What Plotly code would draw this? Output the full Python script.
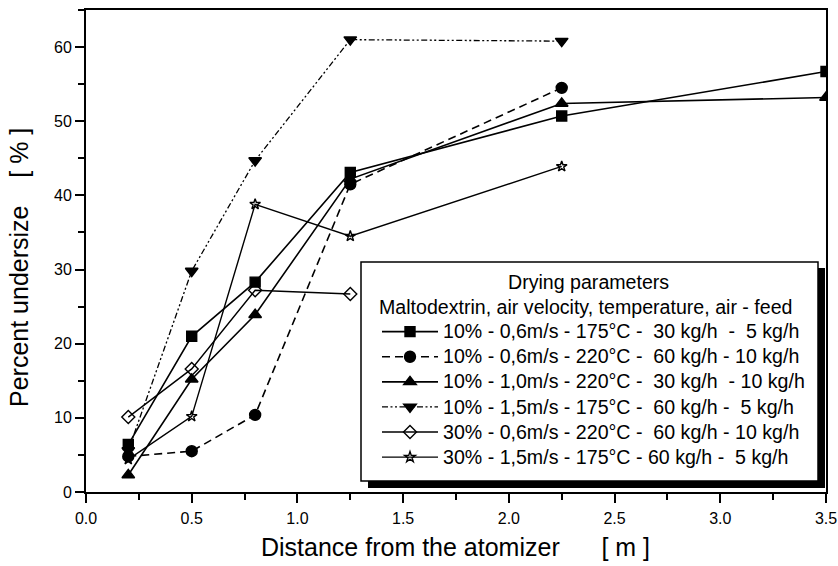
import plotly.graph_objects as go

# Distance from the atomizer [m] at which samples were taken
distance = [0.2, 0.5, 0.8, 1.25, 2.25, 3.5]

# Percent undersize [%] for each drying condition
s1_10_06_175 = [6.4, 21.0, 28.3, 43.1, 50.7, 56.7]
s2_10_06_220 = [4.8, 5.5, 10.4, 41.5, 54.5]
s3_10_10_220 = [2.3, 15.2, 23.9, 42.2, 52.4, 53.2]
s4_10_15_175 = [5.6, 29.8, 44.7, 61.0, 60.8]
s5_30_06_220 = [10.1, 16.6, 27.2, 26.7]
s6_30_15_175 = [4.4, 10.2, 38.8, 34.5, 43.9]

labels = [
    "10% - 0,6m/s - 175°C -  30 kg/h  -  5 kg/h",
    "10% - 0,6m/s - 220°C -  60 kg/h - 10 kg/h",
    "10% - 1,0m/s - 220°C -  30 kg/h  - 10 kg/h",
    "10% - 1,5m/s - 175°C -  60 kg/h -  5 kg/h",
    "30% - 0,6m/s - 220°C -  60 kg/h - 10 kg/h",
    "30% - 1,5m/s - 175°C - 60 kg/h -  5 kg/h",
]

FONT = "Liberation Sans, Arial, sans-serif"
NB = "\u00a0"


def nb(s):
    return s.replace(" ", NB)


def big(s):
    # legend rows use a compact line height with a larger glyph size
    return f'<span style="font-size:19.6px">{nb(s)}</span>'


series = [
    (s1_10_06_175, "square", 10, "solid", 1.6),
    (s2_10_06_220, "circle", 11, "8px,5px", 1.6),
    (s3_10_10_220, "triangle-up", 11, "solid", 1.6),
    (s4_10_15_175, "triangle-down", 11, "6px,2.5px,2px,2.5px,2px,2.5px", 1.3),
    (s5_30_06_220, "diamond-open", 10, "solid", 1.4),
    (s6_30_15_175, "star-open", 8, "solid", 1.4),
]

fig = go.Figure()
for i, (vals, sym, size, dash, lw) in enumerate(series):
    fig.add_trace(go.Scatter(
        x=distance[:len(vals)], y=vals,
        mode="lines+markers",
        name=big(labels[i]),
        legendgroup=f"g{i}",
        line=dict(color="black", width=lw, dash=dash),
        marker=dict(symbol=sym, size=size, color="black",
                    line=dict(color="black", width=1.4)),
        cliponaxis=True,
    ))

# plot area in pixels: x 86..826, y 10..492
def px_x(p):
    return (p - 86) / 740


def px_y(p):
    return (492 - p) / 482


# legend frame with drop shadow
fig.add_shape(type="rect", xref="paper", yref="paper",
              x0=px_x(368), x1=px_x(825), y0=px_y(488), y1=px_y(268),
              fillcolor="black", line=dict(width=0), layer="above")
fig.add_shape(type="rect", xref="paper", yref="paper",
              x0=px_x(361), x1=px_x(818), y0=px_y(481), y1=px_y(262),
              fillcolor="white", line=dict(color="black", width=1.5), layer="above")

axis_common = dict(
    showline=True, linecolor="black", linewidth=2, mirror=True,
    ticks="outside", ticklen=9, tickwidth=1.5, tickcolor="black",
    showgrid=False, zeroline=False, automargin=False,
    tickfont=dict(family=FONT, size=16, color="black"),
)

fig.update_xaxes(range=[0, 3.5], dtick=0.5, tick0=0, tickformat=".1f",
                 ticklabelstandoff=2,
                 minor=dict(dtick=0.25, ticklen=6, tickwidth=1.5, tickcolor="black", ticks="outside"),
                 **axis_common)
fig.update_yaxes(range=[0, 65], dtick=10, tick0=0,
                 minor=dict(dtick=5, ticklen=6, tickwidth=1.5, tickcolor="black", ticks="outside"),
                 **axis_common)

fig.add_annotation(text=nb("Distance from the atomizer      [ m ]"),
                   xref="paper", yref="paper", x=px_x(455), y=px_y(547),
                   showarrow=False, xanchor="center", yanchor="middle",
                   font=dict(family=FONT, size=25, color="black"))
fig.add_annotation(text=nb("Percent undersize    [ % ]"), textangle=-90,
                   xref="paper", yref="paper", x=px_x(19), y=px_y(268),
                   showarrow=False, xanchor="center", yanchor="middle",
                   font=dict(family=FONT, size=25, color="black"))
fig.add_annotation(text="Drying parameters",
                   xref="paper", yref="paper", x=px_x(588), y=px_y(282),
                   showarrow=False, xanchor="center", yanchor="middle",
                   font=dict(family=FONT, size=19.6, color="black"))

fig.update_layout(
    width=838, height=566,
    margin=dict(l=86, r=12, t=10, b=74, autoexpand=False),
    paper_bgcolor="white", plot_bgcolor="white",
    font=dict(family=FONT, color="black"),
    showlegend=True,
    legend=dict(
        x=px_x(377), y=px_y(292), xanchor="left", yanchor="top",
        bgcolor="rgba(0,0,0,0)", borderwidth=0,
        font=dict(family=FONT, size=17, color="black"),
        title=dict(text=big("Maltodextrin, air velocity, temperature, air - feed"),
                   side="top", font=dict(family=FONT, size=17, color="black")),
        itemwidth=56, tracegroupgap=0, traceorder="normal",
    ),
)

fig.write_html("out.html")
